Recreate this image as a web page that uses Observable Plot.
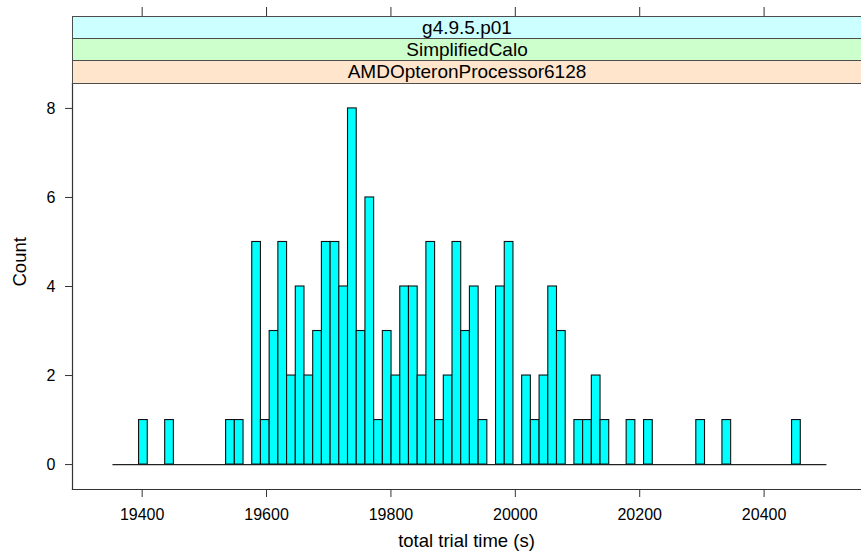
<!DOCTYPE html>
<html>
<head>
<meta charset="utf-8">
<script src="https://cdn.jsdelivr.net/npm/d3@7"></script>
<script src="https://cdn.jsdelivr.net/npm/@observablehq/plot@0.6"></script>
<style>
html, body { margin: 0; padding: 0; background: #fff; overflow: hidden; }
#wrap { position: relative; width: 861px; height: 554px; overflow: hidden;
  font-family: "Liberation Sans", Arial, Helvetica, sans-serif; }
#chart { position: absolute; left: 0; top: 0; }
.strip { position: absolute; left: 72px; width: 789px; box-sizing: border-box;
  border: 1px solid #4d4d4d; border-right: none; font-size: 19px; color: #000;
  text-align: center; display: flex; align-items: center; justify-content: center;
  white-space: nowrap; }
</style>
</head>
<body>
<div id="wrap"><div id="chart"></div></div>
<script>
// Strip (conditioning) labels, outermost first
const stripLabels = ["g4.9.5.p01", "SimplifiedCalo", "AMDOpteronProcessor6128"];
const stripColors = ["#ccffff", "#ccffcc", "#ffe5cc"];

// Histogram breaks: regular bins starting at breakStart, binWidth seconds wide
const breakStart = 19353;
const binWidth = 14;
// Counts per bin (82 bins)
const counts = [
  0,0,0,1,0,0,1,0,0,0,
  0,0,0,1,1,0,5,1,3,5,
  2,4,2,3,5,5,4,8,3,6,
  1,3,2,4,4,2,5,1,2,5,
  3,4,1,0,4,5,0,2,1,2,
  4,3,0,1,1,2,1,0,0,1,
  0,1,0,0,0,0,0,1,0,0,
  1,0,0,0,0,0,0,0,1,0,
  0,0
];

const xTicks = [19400, 19600, 19800, 20000, 20200, 20400];
const yTicks = [0, 2, 4, 6, 8];
const xLabel = "total trial time (s)";
const yLabel = "Count";

const breaks = d3.range(counts.length + 1).map(i => breakStart + i * binWidth);
const bins = counts.map((c, i) => ({x1: breaks[i], x2: breaks[i + 1], count: c}))
  .filter(d => d.count > 0);

const axisColor = "#333";

const chart = Plot.plot({
  width: 861,
  height: 554,
  marginLeft: 72,
  marginRight: 1,
  marginTop: 83,
  marginBottom: 65,
  style: {
    fontFamily: '"Liberation Sans", Arial, Helvetica, sans-serif',
    fontSize: "16px",
    color: "#000",
    background: "transparent"
  },
  x: {domain: [19288, 20555]},
  y: {domain: [-0.56, 8.56]},
  marks: [
    Plot.ruleY([0], {x1: breaks[0], x2: breaks[breaks.length - 1], stroke: "#222", strokeWidth: 1.2}),
    Plot.rectY(bins, {x1: "x1", x2: "x2", y: "count", fill: "#00ffff", stroke: "#111", strokeWidth: 1.1}),
    Plot.frame({anchor: "left", stroke: axisColor, strokeWidth: 1.2}),
    Plot.frame({anchor: "bottom", stroke: axisColor, strokeWidth: 1.2}),
    Plot.frame({anchor: "top", stroke: axisColor, strokeWidth: 1.2}),
    Plot.axisX({anchor: "bottom", ticks: xTicks, tickSize: 8, tickPadding: 11,
      tickFormat: d => String(d), label: null, stroke: axisColor, fontSize: 16}),
    Plot.axisX({anchor: "top", ticks: xTicks, tickSize: 10, dy: -67,
      fill: "none", label: null, stroke: axisColor}),
    Plot.axisY({anchor: "left", ticks: yTicks, tickSize: 7, tickPadding: 10,
      tickFormat: d => String(d), label: null, stroke: axisColor, fontSize: 16}),
    Plot.text([xLabel], {text: d => d, frameAnchor: "bottom", dy: 57, fontSize: 18.5, fill: "#000"}),
    Plot.text([yLabel], {text: d => d, frameAnchor: "left", rotate: -90, dx: -52, fontSize: 18.5, fill: "#000"})
  ]
});
document.getElementById("chart").appendChild(chart);

// Strips above the panel
const stripTops = [16, 38, 60];
const stripHeights = [23, 23, 24];
const wrap = document.getElementById("wrap");
stripLabels.forEach((lab, i) => {
  const s = document.createElement("div");
  s.className = "strip";
  s.style.top = stripTops[i] + "px";
  s.style.height = stripHeights[i] + "px";
  s.style.background = stripColors[i];
  s.textContent = lab;
  wrap.appendChild(s);
});
</script>
</body>
</html>
